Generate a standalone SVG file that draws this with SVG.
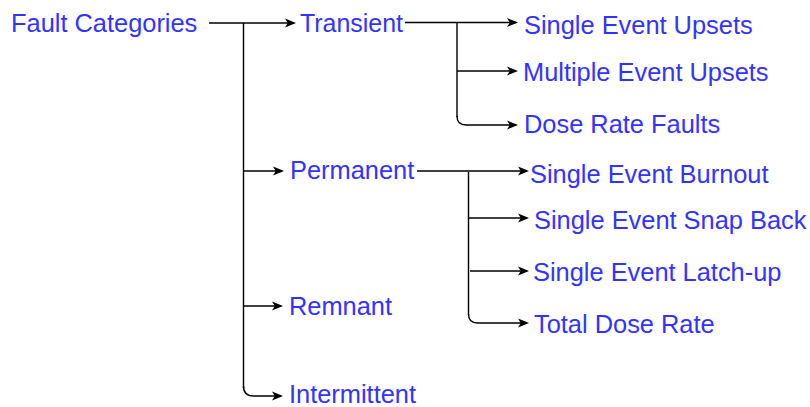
<svg xmlns="http://www.w3.org/2000/svg" width="810" height="407" viewBox="0 0 810 407">
  <defs>
    <marker id="arrow" viewBox="0 0 11 10" refX="9" refY="5" markerWidth="11" markerHeight="10" markerUnits="userSpaceOnUse" orient="auto">
      <path d="M0,0.5 L11,5 L0,9.5 L2.8,5 z" fill="#000"/>
    </marker>
  </defs>
  <style>
    .lbl { font-family: "Liberation Sans", Arial, Helvetica, sans-serif; font-size: 25.4px; fill: #3333ff; }
    .edge { fill: none; stroke: #000; stroke-width: 1.4; }
    .arr { marker-end: url(#arrow); }
  </style>
  <rect width="810" height="407" fill="#fff"/>

  <g id="connectors">
    <!-- root to first-level categories -->
    <path class="edge arr" d="M209,23 H294"/>
    <path class="edge" d="M243.5,23 V388"/>
    <path class="edge arr" d="M243.5,171 H282"/>
    <path class="edge arr" d="M243.5,306 H281"/>
    <path class="edge arr" d="M243.5,386 Q243.5,396 253.5,396 H281"/>
    <!-- transient faults -->
    <path class="edge arr" d="M405,22.5 H516"/>
    <path class="edge" d="M457,23 V117"/>
    <path class="edge arr" d="M457,71 H516"/>
    <path class="edge arr" d="M457,116 Q457,125 466,125 H516"/>
    <!-- permanent faults -->
    <path class="edge arr" d="M417,171 H527"/>
    <path class="edge" d="M468.5,172 V315"/>
    <path class="edge arr" d="M468.5,218 H527"/>
    <path class="edge arr" d="M470,271 H527"/>
    <path class="edge arr" d="M468.5,314 Q468.5,323 477.5,323 H527"/>
  </g>

  <g id="fault-categories"><text class="lbl" x="11" y="31.5">Fault Categories</text></g>
  <g id="transient"><text class="lbl" x="300" y="31.5" textLength="103" lengthAdjust="spacingAndGlyphs">Transient</text></g>
  <g id="permanent"><text class="lbl" x="290" y="179">Permanent</text></g>
  <g id="remnant"><text class="lbl" x="289" y="315">Remnant</text></g>
  <g id="intermittent"><text class="lbl" x="289" y="402.5">Intermittent</text></g>

  <g id="single-event-upsets"><text class="lbl" x="524" y="34">Single Event Upsets</text></g>
  <g id="multiple-event-upsets"><text class="lbl" x="523" y="81">Multiple Event Upsets</text></g>
  <g id="dose-rate-faults"><text class="lbl" x="524" y="133">Dose Rate Faults</text></g>

  <g id="single-event-burnout"><text class="lbl" x="530" y="182.5">Single Event Burnout</text></g>
  <g id="single-event-snap-back"><text class="lbl" x="534" y="229">Single Event Snap Back</text></g>
  <g id="single-event-latch-up"><text class="lbl" x="533" y="280.5">Single Event Latch-up</text></g>
  <g id="total-dose-rate"><text class="lbl" x="534" y="332.5">Total Dose Rate</text></g>
</svg>
